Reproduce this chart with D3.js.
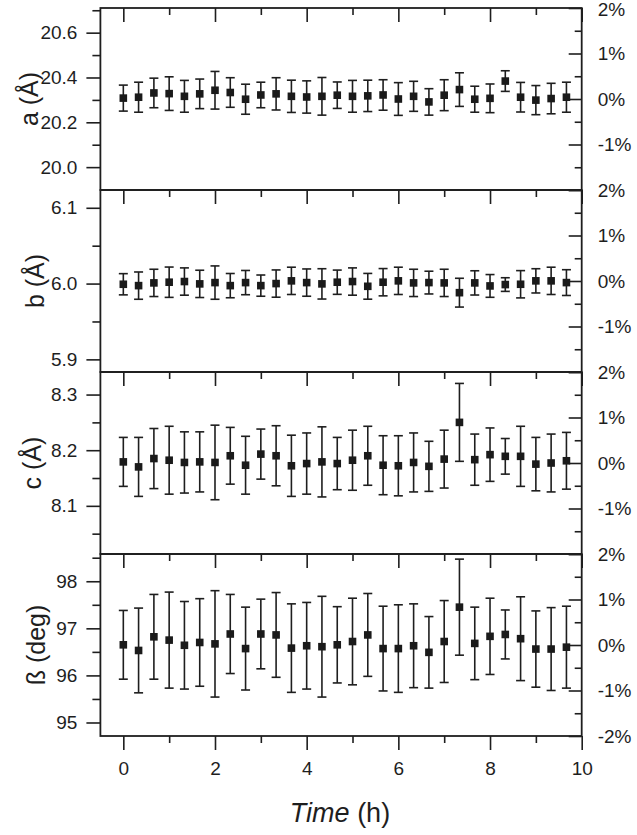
<!DOCTYPE html>
<html>
<head>
<meta charset="utf-8">
<script src="https://cdn.jsdelivr.net/npm/d3@7"></script>
<style>
  body { margin: 0; background: #fff; }
  text { font-family: "Liberation Sans", Arial, sans-serif; fill: #1e1e1e; }
</style>
</head>
<body>
<div id="chart"></div>
<script>
// time points (h)
const time = [0, 0.333, 0.667, 1, 1.333, 1.667, 2, 2.333, 2.667, 3, 3.333, 3.667, 4, 4.333, 4.667,
              5, 5.333, 5.667, 6, 6.333, 6.667, 7, 7.333, 7.667, 8, 8.333, 8.667, 9, 9.333, 9.667];

const aVal = [20.308, 20.312, 20.331, 20.328, 20.316, 20.327, 20.343, 20.333, 20.303, 20.322, 20.327, 20.316, 20.313, 20.316, 20.321,
              20.316, 20.318, 20.322, 20.304, 20.316, 20.291, 20.321, 20.346, 20.303, 20.307, 20.384, 20.312, 20.299, 20.306, 20.312];
const aErr = [0.058, 0.067, 0.066, 0.075, 0.071, 0.066, 0.084, 0.066, 0.067, 0.057, 0.072, 0.072, 0.072, 0.084, 0.059,
              0.071, 0.070, 0.068, 0.073, 0.067, 0.059, 0.069, 0.075, 0.058, 0.064, 0.046, 0.066, 0.065, 0.068, 0.067];

const bVal = [5.9991, 5.9973, 6.0009, 6.0018, 6.0027, 5.9996, 6.0013, 5.9973, 6.0013, 5.9973, 6.0000, 6.0036, 6.0013, 5.9996, 6.0018,
              6.0027, 5.9964, 6.0018, 6.0036, 6.0009, 6.0013, 6.0009, 5.9880, 6.0009, 5.9969, 5.9987, 5.9991, 6.0036, 6.0036, 6.0013];
const bErr = [0.014, 0.018, 0.018, 0.020, 0.018, 0.018, 0.022, 0.016, 0.016, 0.014, 0.018, 0.018, 0.018, 0.020, 0.016,
              0.018, 0.017, 0.018, 0.018, 0.018, 0.015, 0.018, 0.019, 0.016, 0.015, 0.009, 0.018, 0.016, 0.018, 0.017];

const cVal = [8.179, 8.170, 8.185, 8.182, 8.178, 8.179, 8.178, 8.190, 8.173, 8.193, 8.190, 8.172, 8.176, 8.179, 8.176,
              8.182, 8.190, 8.173, 8.172, 8.178, 8.171, 8.184, 8.250, 8.183, 8.192, 8.189, 8.189, 8.175, 8.177, 8.181];
const cErr = [0.044, 0.053, 0.054, 0.061, 0.055, 0.054, 0.067, 0.051, 0.052, 0.045, 0.054, 0.055, 0.055, 0.063, 0.047,
              0.054, 0.053, 0.053, 0.054, 0.053, 0.045, 0.052, 0.070, 0.046, 0.048, 0.032, 0.054, 0.048, 0.052, 0.051];

const betaVal = [96.65, 96.53, 96.82, 96.75, 96.64, 96.70, 96.67, 96.88, 96.57, 96.88, 96.86, 96.58, 96.63, 96.61, 96.65,
                 96.72, 96.86, 96.57, 96.57, 96.63, 96.49, 96.72, 97.45, 96.68, 96.83, 96.87, 96.78, 96.56, 96.56, 96.60];
const betaErr = [0.73, 0.90, 0.90, 1.02, 0.93, 0.93, 1.13, 0.84, 0.88, 0.74, 0.90, 0.94, 0.92, 1.07, 0.81,
                 0.92, 0.88, 0.90, 0.93, 0.89, 0.76, 0.87, 1.02, 0.77, 0.81, 0.52, 0.89, 0.81, 0.88, 0.87];

// per panel: axis title, reference value for the % axis, left ticks
const titles = ["a (Å)", "b (Å)", "c (Å)", "ß (deg)"];
const refs = [20.304, 6.0034, 8.177, 96.646];
const leftTicks = [[20.0, 20.2, 20.4, 20.6], [5.9, 6.0, 6.1], [8.1, 8.2, 8.3], [95, 96, 97, 98]];
const leftMinor = [[20.1, 20.3, 20.5, 20.7], [5.95, 6.05], [8.05, 8.15, 8.25], [95.5, 96.5, 97.5, 98.5]];
const leftFmt = [".1f", ".1f", ".1f", "d"];
const pctTicks = [-2, -1, 0, 1, 2];
const pctMinor = [-1.5, -0.5, 0.5, 1.5];
const xTicks = [0, 2, 4, 6, 8, 10];
const xMinor = [1, 3, 5, 7, 9];

const series = [[aVal, aErr], [bVal, bErr], [cVal, cErr], [betaVal, betaErr]];

const W = 637, H = 835;
const left = 100.4, right = 581.7;
const panelH = 182, top0 = 8;
const ink = "#1e1e1e";

const svg = d3.select("#chart").append("svg")
    .attr("width", W)
    .attr("height", H);

const x = d3.scaleLinear().domain([-0.5, 10]).range([left, right]);

function styleAxis(g) {
  g.select(".domain").remove();
  g.selectAll("line").attr("stroke", ink).attr("stroke-width", 1.6);
  g.selectAll("text").style("font-size", "19px").attr("fill", ink);
}

series.forEach((s, i) => {
  const y0 = top0 + i * panelH, y1 = y0 + panelH;
  const ref = refs[i];
  const y = d3.scaleLinear().domain([ref * 0.98, ref * 1.02]).range([y1, y0]);
  const yp = d3.scaleLinear().domain([-2, 2]).range([y1, y0]);
  const g = svg.append("g");

  // left axis, outward ticks
  g.append("g").attr("transform", `translate(${left},0)`)
    .call(d3.axisLeft(y).tickValues(leftTicks[i]).tickSize(14).tickPadding(9).tickFormat(d3.format(leftFmt[i])))
    .call(styleAxis);
  g.append("g").attr("transform", `translate(${left},0)`)
    .call(d3.axisLeft(y).tickValues(leftMinor[i]).tickSize(8).tickFormat(""))
    .call(styleAxis);

  // right % axis, inward ticks
  const shown = i === 3 ? pctTicks : pctTicks.filter(d => d > -2);
  const rAxis = g.append("g").attr("transform", `translate(${right},0)`)
    .call(d3.axisRight(yp).tickValues(pctTicks).tickSize(-13).tickPadding(16)
      .tickFormat(d => shown.includes(d) ? d + "%" : ""))
    .call(styleAxis);
  if (i === 0) {
    // keep the top label inside the page
    rAxis.selectAll("text").filter(d => d === 2).attr("dy", "0.42em");
  }
  g.append("g").attr("transform", `translate(${right},0)`)
    .call(d3.axisRight(yp).tickValues(pctMinor).tickSize(-7).tickFormat(""))
    .call(styleAxis);

  // top edge ticks pointing into the panel
  g.append("g").attr("transform", `translate(0,${y0})`)
    .call(d3.axisTop(x).tickValues(xTicks).tickSize(-14).tickFormat(""))
    .call(styleAxis);
  g.append("g").attr("transform", `translate(0,${y0})`)
    .call(d3.axisTop(x).tickValues(xMinor).tickSize(-7).tickFormat(""))
    .call(styleAxis);

  g.append("rect")
    .attr("x", left).attr("y", y0)
    .attr("width", right - left).attr("height", panelH)
    .attr("fill", "none").attr("stroke", ink).attr("stroke-width", 1.8);

  // error bars
  const vals = s[0], errs = s[1];
  const eb = g.selectAll(".eb").data(time).enter().append("g")
    .attr("stroke", ink).attr("stroke-width", 1.6);
  eb.append("line")
    .attr("x1", (d, j) => x(d)).attr("x2", (d, j) => x(d))
    .attr("y1", (d, j) => y(vals[j] - errs[j])).attr("y2", (d, j) => y(vals[j] + errs[j]));
  eb.append("line")
    .attr("x1", d => x(d) - 4.5).attr("x2", d => x(d) + 4.5)
    .attr("y1", (d, j) => y(vals[j] + errs[j])).attr("y2", (d, j) => y(vals[j] + errs[j]));
  eb.append("line")
    .attr("x1", d => x(d) - 4.5).attr("x2", d => x(d) + 4.5)
    .attr("y1", (d, j) => y(vals[j] - errs[j])).attr("y2", (d, j) => y(vals[j] - errs[j]));

  // square markers
  g.selectAll(".pt").data(time).enter().append("rect")
    .attr("x", d => x(d) - 3.8)
    .attr("y", (d, j) => y(vals[j]) - 3.8)
    .attr("width", 7.6).attr("height", 7.6)
    .attr("fill", "#1a1a1a");

  // axis title
  const tx = [38, 44, 41, 45][i];
  svg.append("text")
    .attr("transform", `translate(${tx},${(y0 + y1) / 2}) rotate(-90)`)
    .attr("text-anchor", "middle")
    .style("font-size", "25px")
    .text(titles[i]);
});

// bottom x axis
const yBottom = top0 + 4 * panelH;
svg.append("g").attr("transform", `translate(0,${yBottom})`)
  .call(d3.axisBottom(x).tickValues(xTicks).tickSize(14).tickPadding(12))
  .call(styleAxis);
svg.append("g").attr("transform", `translate(0,${yBottom})`)
  .call(d3.axisBottom(x).tickValues(xMinor).tickSize(7).tickFormat(""))
  .call(styleAxis);

const xt = svg.append("text")
  .attr("x", 340).attr("y", 822)
  .attr("text-anchor", "middle")
  .style("font-size", "27px");
xt.append("tspan").style("font-style", "italic").text("Time");
xt.append("tspan").text(" (h)");
</script>
</body>
</html>
